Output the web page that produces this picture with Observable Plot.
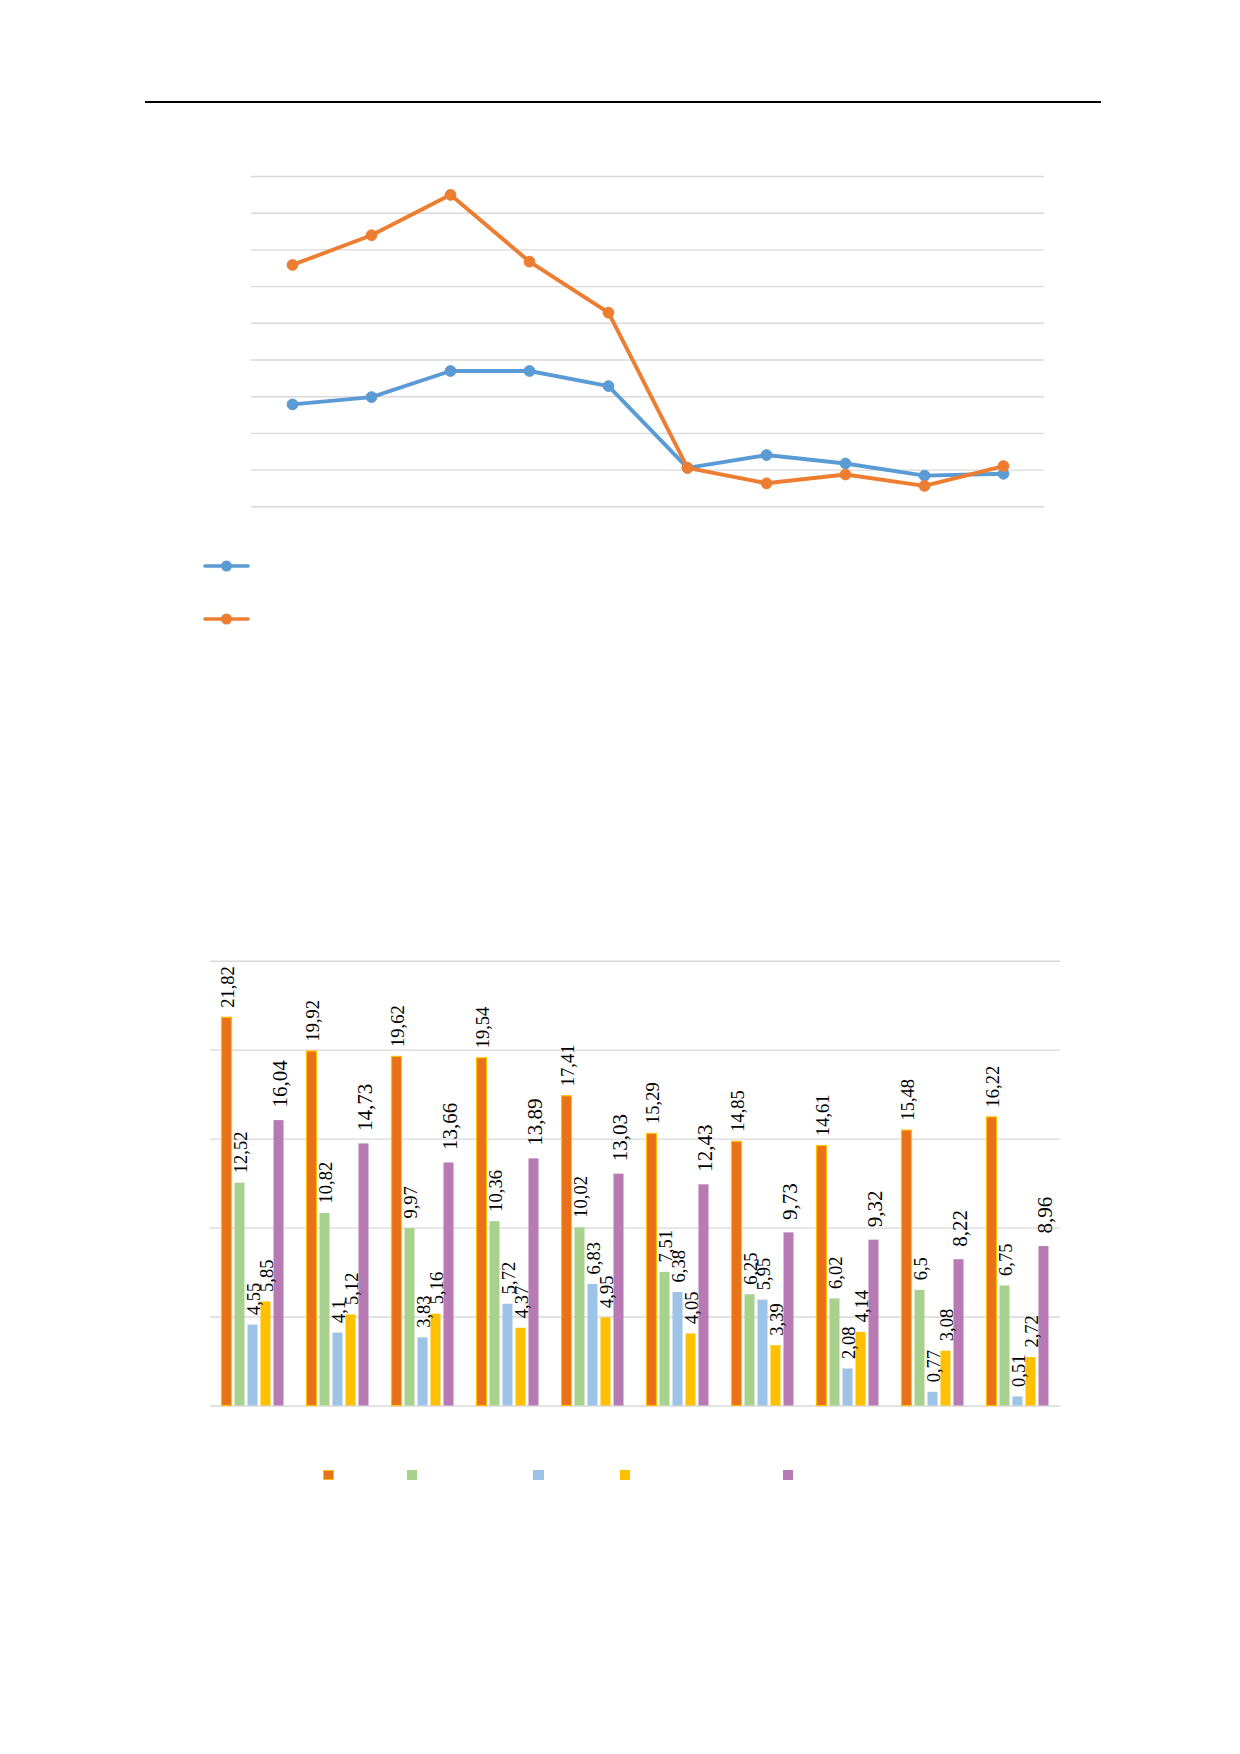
<!DOCTYPE html>
<html>
<head>
<meta charset="utf-8">
<script src="https://cdn.jsdelivr.net/npm/d3@7"></script>
<script src="https://cdn.jsdelivr.net/npm/@observablehq/plot@0.6"></script>
<style>
  html, body { margin: 0; padding: 0; background: #fff; }
  #page { position: relative; width: 1240px; height: 1754px; overflow: hidden; font-family: "Liberation Serif", serif; }
  #rule { position: absolute; left: 145px; top: 100.5px; width: 956px; height: 2.4px; background: #000; }
  #line-chart { position: absolute; left: 0; top: 0; }
  #bar-chart { position: absolute; left: 0; top: 900px; }
  .abs { position: absolute; }
</style>
</head>
<body>
<div id="page">
  <div id="rule"></div>
  <div id="line-chart"></div>
  <div id="line-legend"></div>
  <div id="bar-chart"></div>
  <div id="bar-legend"></div>
</div>
<script>
// ---------- Line chart data ----------
const lineCategories = ["1", "2", "3", "4", "5", "6", "7", "8", "9", "10"];
const lineSeriesNames = ["A", "B"];
const lineSeriesA = [13.95, 14.95, 18.5, 18.5, 16.45, 5.3, 7.05, 5.9, 4.25, 4.5];
const lineSeriesB = [32.95, 37.0, 42.5, 33.4, 26.45, 5.3, 3.2, 4.4, 2.85, 5.55];
const lineTicks = [0, 5, 10, 15, 20, 25, 30, 35, 40, 45];
const lineColors = ["#5B9BD5", "#ED7D31"];

// ---------- Bar chart data ----------
const barCategories = ["1", "2", "3", "4", "5", "6", "7", "8", "9", "10"];
const barSeriesNames = ["S1", "S2", "S3", "S4", "S5"];
const barS1 = [21.82, 19.92, 19.62, 19.54, 17.41, 15.29, 14.85, 14.61, 15.48, 16.22];
const barS2 = [12.52, 10.82, 9.97, 10.36, 10.02, 7.51, 6.25, 6.02, 6.5, 6.75];
const barS3 = [4.55, 4.1, 3.83, 5.72, 6.83, 6.38, 5.95, 2.08, 0.77, 0.51];
const barS4 = [5.85, 5.12, 5.16, 4.37, 4.95, 4.05, 3.39, 4.14, 3.08, 2.72];
const barS5 = [16.04, 14.73, 13.66, 13.89, 13.03, 12.43, 9.73, 9.32, 8.22, 8.96];
const barTicks = [0, 5, 10, 15, 20, 25];
const barColors = ["#E8711A", "#A9D18E", "#9DC3E6", "#FFC000", "#B77AB2"];

// ---------- Build tables ----------
const lineRows = [];
[lineSeriesA, lineSeriesB].forEach((vals, si) => {
  vals.forEach((v, i) => lineRows.push({series: lineSeriesNames[si], cat: lineCategories[i], value: v}));
});
const rowsA = lineRows.filter(d => d.series === "A");
const rowsB = lineRows.filter(d => d.series === "B");

const barRows = [];
[barS1, barS2, barS3, barS4, barS5].forEach((vals, si) => {
  vals.forEach((v, i) => barRows.push({series: barSeriesNames[si], cat: barCategories[i], value: v}));
});
const fmt = v => String(v).replace(".", ",");

// ---------- Line chart ----------
const linePlot = Plot.plot({
  width: 1240,
  height: 536,
  marginLeft: 251,
  marginRight: 196,
  marginTop: 176,
  marginBottom: 29.7,
  style: {fontFamily: "Liberation Serif", background: "transparent"},
  x: {type: "point", domain: lineCategories, padding: 0.5, axis: null},
  y: {domain: [0, 45], axis: null},
  marks: [
    Plot.ruleY(lineTicks, {stroke: "#D9D9D9", strokeWidth: 1.4}),
    Plot.line(rowsA, {x: "cat", y: "value", stroke: lineColors[0], strokeWidth: 3.9, strokeLinejoin: "round"}),
    Plot.dot(rowsA, {x: "cat", y: "value", r: 5.4, fill: lineColors[0], stroke: lineColors[0], strokeWidth: 1}),
    Plot.line(rowsB, {x: "cat", y: "value", stroke: lineColors[1], strokeWidth: 3.9, strokeLinejoin: "round"}),
    Plot.dot(rowsB, {x: "cat", y: "value", r: 5.4, fill: lineColors[1], stroke: lineColors[1], strokeWidth: 1})
  ]
});
document.getElementById("line-chart").appendChild(linePlot);

// line legend (symbols only)
const lineLegend = document.getElementById("line-legend");
const legendTops = [566, 619.3];
lineSeriesNames.forEach((s, i) => {
  const svg = d3.create("svg").attr("width", 50).attr("height", 16)
    .attr("class", "abs")
    .style("left", "201px").style("top", (legendTops[i] - 8) + "px");
  svg.append("line").attr("x1", 4).attr("x2", 47).attr("y1", 8).attr("y2", 8)
    .attr("stroke", lineColors[i]).attr("stroke-width", 3.6).attr("stroke-linecap", "round");
  svg.append("circle").attr("cx", 25.5).attr("cy", 8).attr("r", 5.5).attr("fill", lineColors[i]);
  lineLegend.appendChild(svg.node());
});

// ---------- Bar chart ----------
const barPlot = Plot.plot({
  width: 1240,
  height: 525.5,
  marginLeft: 206.5,
  marginRight: 177.5,
  marginTop: 60.7,
  marginBottom: 20,
  style: {fontFamily: "Liberation Serif", background: "transparent"},
  facet: {data: barRows, x: "cat"},
  fx: {domain: barCategories, padding: 0, axis: null, label: null},
  x: {domain: barSeriesNames, paddingInner: 0.21, paddingOuter: 0.823, axis: null},
  y: {domain: [0, 25], axis: null},
  color: {domain: barSeriesNames, range: barColors},
  marks: [
    Plot.ruleY(barTicks, {stroke: "#D9D9D9", strokeWidth: 1.4}),
    Plot.barY(barRows, {
      filter: d => d.series !== "S1",
      x: "series", y: "value", fill: "series"
    }),
    Plot.barY(barRows, {
      filter: d => d.series === "S1",
      x: "series", y: "value", fill: "series",
      stroke: "#FFC000", strokeWidth: 1.2
    }),
    Plot.text(barRows, {
      filter: d => d.series !== "S5",
      x: "series", y: "value", text: d => fmt(d.value),
      rotate: -90, textAnchor: "start", dy: -10, dx: 1,
      fontSize: 18.5, fill: "#000"
    }),
    Plot.text(barRows, {
      filter: d => d.series === "S5",
      x: "series", y: "value", text: d => fmt(d.value),
      rotate: -90, textAnchor: "start", dy: -13, dx: 1,
      fontSize: 21, fill: "#000"
    })
  ]
});
document.getElementById("bar-chart").appendChild(barPlot);

// bar legend (swatches only)
const barLegend = document.getElementById("bar-legend");
const swatchCenters = [328.5, 412, 538.5, 625, 788];
barSeriesNames.forEach((s, i) => {
  const d = document.createElement("div");
  d.className = "abs";
  d.style.left = (swatchCenters[i] - 5.3) + "px";
  d.style.top = (1475 - 5.3) + "px";
  d.style.width = "10.6px";
  d.style.height = "10.6px";
  d.style.boxSizing = "border-box";
  d.style.background = barColors[i];
  if (i === 0) d.style.border = "1.4px solid #FFC000";
  barLegend.appendChild(d);
});
</script>
</body>
</html>
